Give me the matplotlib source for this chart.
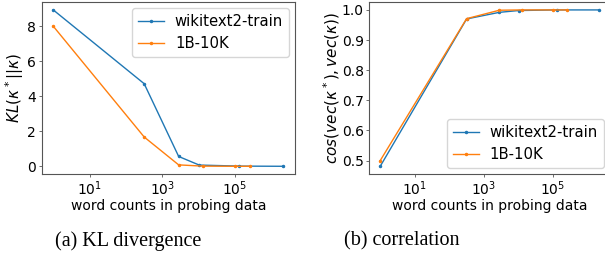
import numpy as np
import matplotlib
matplotlib.use('Agg')
import matplotlib.pyplot as plt

# word counts in probing data
x_wiki = [1, 320, 2850, 10500, 135000, 2200000]
x_1b = [1, 320, 2850, 13000, 100000, 260000]

# KL divergence
kl_wiki = [8.93, 4.72, 0.57, 0.08, 0.02, 0.01]
kl_1b = [8.0, 1.68, 0.09, 0.02, 0.01, 0.01]

# correlation
cos_wiki = [0.481, 0.970, 0.992, 0.998, 1.0, 1.0]
cos_1b = [0.500, 0.971, 0.999, 1.0, 1.0, 1.0]

fig = plt.figure(figsize=(6.05, 2.63), dpi=100)
ax1 = fig.add_axes([0.069, 0.338, 0.4186, 0.654])
ax2 = fig.add_axes([0.6104, 0.338, 0.3976, 0.654])

fs = 10
lfs = 10.7
ax1.plot(x_wiki, kl_wiki, '.-', color='tab:blue', lw=1, ms=3, label='wikitext2-train')
ax1.plot(x_1b, kl_1b, '.-', color='tab:orange', lw=1, ms=3, label='1B-10K')
ax1.set_xscale('log')
ax1.set_xlabel('word counts in probing data', fontsize=fs, labelpad=0.5)
ax1.set_ylabel(r'$KL(\kappa^*||\kappa)$', fontsize=11, labelpad=1)
ax1.legend(loc='upper right', fontsize=lfs, borderaxespad=0.4,
           handlelength=1.8, handletextpad=0.7)

ax2.plot(x_wiki, cos_wiki, '.-', color='tab:blue', lw=1, ms=3, label='wikitext2-train')
ax2.plot(x_1b, cos_1b, '.-', color='tab:orange', lw=1, ms=3, label='1B-10K')
ax2.set_xscale('log')
ax2.set_xlabel('word counts in probing data', fontsize=fs, labelpad=0.5)
ax2.set_ylabel(r'$cos(vec(\kappa^*), vec(\kappa))$', fontsize=11, labelpad=0)
ax2.legend(loc='lower right', fontsize=lfs, borderaxespad=0.4,
           handlelength=1.8, handletextpad=0.7)

for ax in (ax1, ax2):
    ax.tick_params(labelsize=fs, length=2, width=0.6, pad=2, color='#555555')
    ax.xaxis.set_minor_locator(matplotlib.ticker.NullLocator())
    ax.set_xticks([10, 1000, 100000])
    for s in ax.spines.values():
        s.set_color('#555555')
        s.set_linewidth(0.8)

fig.text(0.212, 0.084, '(a) KL divergence', ha='center', va='center',
         family='Liberation Serif', fontsize=14.5)
fig.text(0.664, 0.084, '(b) correlation', ha='center', va='center',
         family='Liberation Serif', fontsize=14.5)

fig.savefig('out.png', dpi=100)
